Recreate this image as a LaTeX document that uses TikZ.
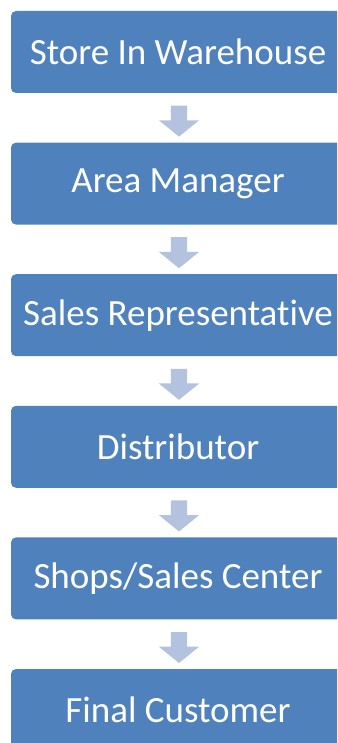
\documentclass[tikz,border=0pt]{standalone}
\usepackage{fontspec}
\setmainfont{Carlito}[RawFeature={-liga;-clig;-dlig}]
\usepackage{xcolor}
\usetikzlibrary{positioning,shapes.arrows,calc}

\begin{document}
\begin{tikzpicture}[x=1pt,y=1pt,
  node distance=49.2pt,
  stepbox/.style={rectangle,rounded corners=5pt,fill=boxblue,draw=none,
    minimum width=334pt,minimum height=82pt,text=white,
    font=\fontsize{37}{40}\selectfont},
  downarrow/.style={single arrow,fill=arrowblue,draw=none,rotate=-90,
    minimum height=31pt,minimum width=40pt,inner sep=8pt,
    single arrow head extend=12pt,single arrow tip angle=102}]
\definecolor{boxblue}{HTML}{4F81BD}
\definecolor{arrowblue}{HTML}{B3C3DF}
\useasboundingbox (0,0) rectangle (337,-743);
\clip (0,0) rectangle (337,-743);

% Steps of the chain
\node[stepbox] (store) at (178,-52) {Store In Warehouse};
\node[stepbox,below=of store] (area) {Area Manager};
\node[stepbox,below=of area] (sales) {Sales Representative};
\node[stepbox,below=of sales] (dist) {Distributor};
\node[stepbox,below=of dist] (shops) {Shops/Sales Center};
\node[stepbox,below=of shops] (final) {Final Customer};

% Block arrows between the steps
\node[downarrow] (a1) at ($(store.south)!0.5!(area.north)+(1,0)$) {};
\node[downarrow] (a2) at ($(area.south)!0.5!(sales.north)+(1,0)$) {};
\node[downarrow] (a3) at ($(sales.south)!0.5!(dist.north)+(1,0)$) {};
\node[downarrow] (a4) at ($(dist.south)!0.5!(shops.north)+(1,0)$) {};
\node[downarrow] (a5) at ($(shops.south)!0.5!(final.north)+(1,0)$) {};
\end{tikzpicture}
\end{document}
